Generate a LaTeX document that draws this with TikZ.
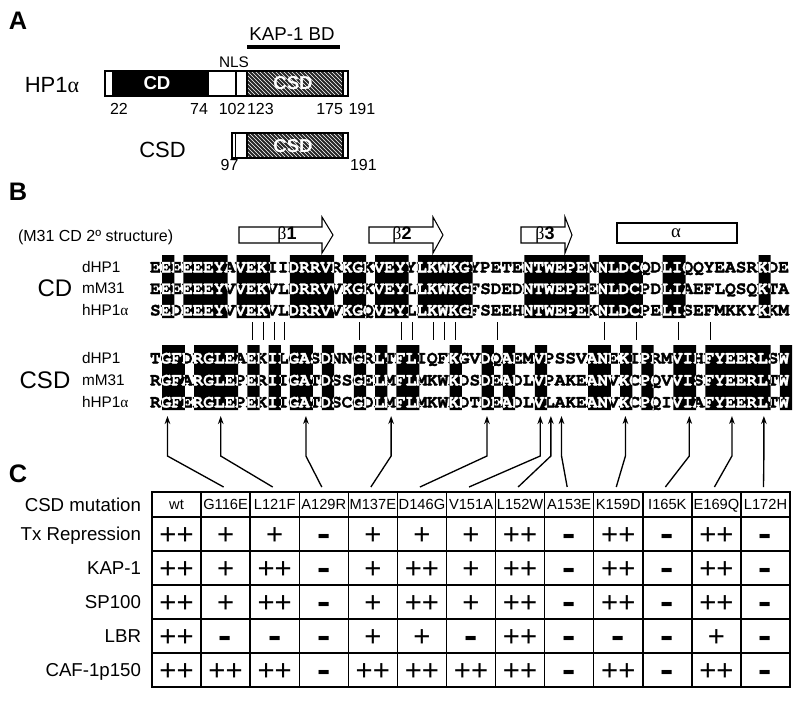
\documentclass[tikz,border=0pt]{standalone}
\usepackage{graphicx}
\usepackage{fontspec}
\setmainfont{Liberation Sans}
\newfontfamily\seqfont[FakeBold=1.4]{texgyrecursor-bold.otf}
\newfontfamily\grkfont{Liberation Serif}
\usetikzlibrary{arrows.meta,patterns}

\newcount\seqcnt
\def\seqrow#1#2#3{\seqcnt=0 \def\seqtag{#1}\def\seqy{#2}\seqloop#3\relax}
\def\seqloop#1{\ifx\relax#1\else\node[seqch,name=\seqtag-\the\seqcnt] at ({150+10.65*(\the\seqcnt+0.5)},\seqy) {\scalebox{1.0}[1]{#1}};\advance\seqcnt by 1 \expandafter\seqloop\fi}
\def\allseqs{%
\seqrow{cda}{272.5}{EEEEEEYAVEKIIDRRVRKGKVEYYLKWKGYPETENTWEPENNLDCQDLIQQYEASRKDE}%
\seqrow{cdb}{294}{EEEEEEYVVEKVLDRRVVKGKVEYLLKWKGFSDEDNTWEPEENLDCPDLIAEFLQSQKTA}%
\seqrow{cdc}{315.5}{SEDEEEYVVEKVLDRRVVKGQVEYLLKWKGFSEEHNTWEPEKNLDCPELISEFMKKYKKM}%
\seqrow{csa}{363.5}{TGFDRGLEAEKILGASDNNGRLTFLIQFKGVDQAEMVPSSVANEKIPRMVIHFYEERLSW}%
\seqrow{csb}{385.5}{RGFARGLEPERIIGATDSSGELMFLMKWKDSDEADLVPAKEANVKCPQVVISFYEERLTW}%
\seqrow{csc}{407.5}{RGFERGLEPEKIIGATDSCGDLMFLMKWKDTDEADLVLAKEANVKCPQIVIAFYEERLTW}%
}
\def\cdruns{1/1,3/6,8/10,13/16,18/19,21/23,25/29,35/40,42/45,48/49,57/57}
\def\csdruns{1/2,4/7,9/9,11/11,13/14,16/16,19/19,21/21,23/24,28/28,31/31,33/33,36/36,41/42,44/44,46/46,49/50,52/57,59/59}
\newcommand\tabsym[1]{\ifcase#1\raisebox{-1.2pt}{\fontsize{26}{26}\selectfont\bfseries\scalebox{1.15}[1]{-}}\or +\or ++\fi}

\begin{document}
\begin{tikzpicture}[x=0.75pt,y=-0.75pt,
  every node/.style={inner sep=0pt,outer sep=0pt},
  seqch/.style={font=\seqfont\fontsize{13.5}{13.5}\selectfont,anchor=base},
  panel/.style={font=\bfseries\fontsize{19}{19}\selectfont},
  big/.style={font=\fontsize{16.5}{18}\selectfont},
  num/.style={font=\fontsize{12}{12}\selectfont},
  seqlab/.style={font=\fontsize{11.5}{12}\selectfont,anchor=base west},
  biglab/.style={font=\fontsize{18}{18}\selectfont},
  rowlab/.style={font=\fontsize{14}{16}\selectfont,anchor=base east},
  hdr/.style={font=\fontsize{11}{12}\selectfont,anchor=base},
  symb/.style={font=\fontsize{22}{22}\selectfont,anchor=base},
  bar/.style={draw=black,line width=0.9pt},
  strand/.style={draw=black,line width=0.8pt,fill=white},
  tick/.style={line width=0.7pt},
  tab/.style={line width=1.1pt},
  conn/.style={line width=1pt,-{Stealth[length=6pt,width=4.2pt]}}]
\fill[white] (0,0) rectangle (800,704);
\useasboundingbox (0,0) rectangle (800,704);

% ---------------- Panel A ----------------
\node[panel] (pA) at (18,21) {A};
\node[font=\fontsize{14}{16}\selectfont] (kap) at (292,34) {KAP-1 BD};
\fill (247,44.5) rectangle (340,49);
\node[font=\fontsize{11.5}{12}\selectfont] (nls) at (234,62) {NLS};
\node[big] (hp1) at (52,85) {HP1{\grkfont α}};
% HP1alpha bar
\fill[black] (113,71) rectangle (208,96);
\fill[black!85] (247,71) rectangle (343,96);
\fill[pattern=north west lines,pattern color=white] (247,71) rectangle (343,96);
\draw[bar] (105,71) rectangle (348,96);
\draw[bar] (113,71) -- (113,96) (208,71) -- (208,96) (236,71) -- (236,96) (247,71) -- (247,96) (343,71) -- (343,96);
\node[font=\bfseries\fontsize{14}{14}\selectfont,text=white] (cdt) at (157,83.5) {CD};
\node[font=\bfseries\fontsize{14}{14}\selectfont,text=white] (csdt) at (293,83.5) {CSD};
\node[num,anchor=base west] (n22) at (110,114.5) {22};
\node[num,anchor=base east] (n74) at (208,114.5) {74};
\node[num,anchor=base east] (n102) at (245.5,114.5) {102};
\node[num,anchor=base west] (n123) at (247,114.5) {123};
\node[num,anchor=base east] (n175) at (343,114.5) {175};
\node[num,anchor=base west] (n191) at (348.5,114.5) {191};
% CSD bar
\node[big] (csdl) at (162.5,149.5) {CSD};
\fill[black!85] (247,133) rectangle (343,158);
\fill[pattern=north west lines,pattern color=white] (247,133) rectangle (343,158);
\draw[bar] (232,133) rectangle (348,158);
\draw[bar] (235.5,133) -- (235.5,158) (247,133) -- (247,158) (343,133) -- (343,158);
\node[font=\bfseries\fontsize{14}{14}\selectfont,text=white] (csdt2) at (293,146) {CSD};
\node[num,anchor=base east] (n97) at (238.5,170.5) {97};
\node[num,anchor=base west] (n191b) at (350,170.5) {191};

% ---------------- Panel B ----------------
\node[panel] (pB) at (18,192) {B};
\node[font=\fontsize{12}{14}\selectfont,anchor=west] (m31) at (18,237) {(M31 CD 2º structure)};
\draw[strand] (239,227) -- (322,227) -- (322,217) -- (333,235) -- (322,253) -- (322,243) -- (239,243) -- cycle;
\draw[strand] (369,227) -- (433,227) -- (433,217) -- (443,235) -- (433,253) -- (433,243) -- (369,243) -- cycle;
\draw[strand] (521,227) -- (565,227) -- (565,217) -- (572,235) -- (565,253) -- (565,243) -- (521,243) -- cycle;
\draw[strand] (617,223) rectangle (737,243);
\node[font=\fontsize{13.5}{13.5}\selectfont] (b1) at (287,235) {{\grkfont β}\textbf{1}};
\node[font=\fontsize{13.5}{13.5}\selectfont] (b2) at (402,235) {{\grkfont β}\textbf{2}};
\node[font=\fontsize{13.5}{13.5}\selectfont] (b3) at (545,235) {{\grkfont β}\textbf{3}};
\node[font=\fontsize{14}{14}\selectfont] (al) at (676,233.5) {{\grkfont α}};

\node[biglab] (cdl) at (55,288.5) {CD};
\node[seqlab] (l1) at (82,272) {dHP1};
\node[seqlab] (l2) at (82,293.5) {mM31};
\node[seqlab] (l3) at (82,315) {hHP1{\grkfont α}};
\node[biglab] (csdl2) at (45,380) {CSD};
\node[seqlab] (l4) at (82,363) {dHP1};
\node[seqlab] (l5) at (82,385) {mM31};
\node[seqlab] (l6) at (82,407) {hHP1{\grkfont α}};

\fill[black] \foreach \a/\b in \cdruns {({150+10.65*\a+1.5},255) rectangle ({150+10.65*(\b+1)+3},318)};
\fill[black] \foreach \a/\b in \csdruns {({150+10.65*\a+1.5},345) rectangle ({150+10.65*(\b+1)+3},410)};
\allseqs
\begin{scope}
\clip \foreach \a/\b in \cdruns {({150+10.65*\a+1.5},255) rectangle ({150+10.65*(\b+1)+3},318)}
      \foreach \a/\b in \csdruns {({150+10.65*\a+1.5},345) rectangle ({150+10.65*(\b+1)+3},410)};
\tikzset{seqch/.append style={text=white}}
\allseqs
\end{scope}

\foreach \c in {9,10,11,12,19,23,24,26,27,28,32,42,45,49,52}
  \draw[tick] ({150+10.65*(\c+0.5)+1.5},322) -- ({150+10.65*(\c+0.5)+1.5},340);

% ---------------- Panel C ----------------
\node[panel] (pC) at (18,474) {C};
\coordinate (tabtop) at (0,487);
\draw[tab] (152,492) rectangle (790,687);
\foreach \y in {517,551,585,619,653} \draw[tab] (152,\y) -- (790,\y);
\foreach \k in {1,...,12} \draw[tab] ({152+49.08*\k},492) -- ({152+49.08*\k},687);
\foreach \t [count=\k] in {wt,G116E,L121F,A129R,M137E,D146G,V151A,L152W,A153E,K159D,I165K,E169Q,L172H}
  \node[hdr] (h\k) at ({152+49.08*(\k-0.5)},509.5) {\t};
\node[rowlab] (r0) at (141,511) {CSD mutation};
\node[rowlab] (r1) at (141,540.5) {Tx Repression};
\node[rowlab] (r2) at (141,574.5) {KAP-1};
\node[rowlab] (r3) at (141,608.5) {SP100};
\node[rowlab] (r4) at (141,642.5) {LBR};
\node[rowlab] (r5) at (141,676.5) {CAF-1p150};
\foreach \r/\yc/\vals in {1/534/{2,1,1,0,1,1,1,2,0,2,0,2,0},
                          2/568/{2,1,2,0,1,2,1,2,0,2,0,2,0},
                          3/602/{2,1,2,0,1,2,1,2,0,2,0,2,0},
                          4/636/{2,0,0,0,1,1,0,2,0,0,0,1,0},
                          5/670/{2,2,2,0,2,2,2,2,0,2,0,2,0}}
  \foreach \v [count=\k] in \vals
    \node[symb] (c\r-\k) at ({152+49.08*(\k-0.5)},\yc+10) {\tabsym{\v}};

% arrows from table to alignment
\foreach \c/\k in {1/2,6/3,14/4,22/5,31/6,36/7,37/8,38/9,44/10,50/11,54/12,57/13}{
  \coordinate (tip\k) at ({150+10.65*(\c+0.5)+1.5},416);
  \coordinate (bend\k) at ({150+10.65*(\c+0.5)+1.5},456);
  \draw[conn] ([xshift=-1.5pt]h\k |- tabtop) -- (bend\k) -- (tip\k);
}
\end{tikzpicture}
\end{document}
